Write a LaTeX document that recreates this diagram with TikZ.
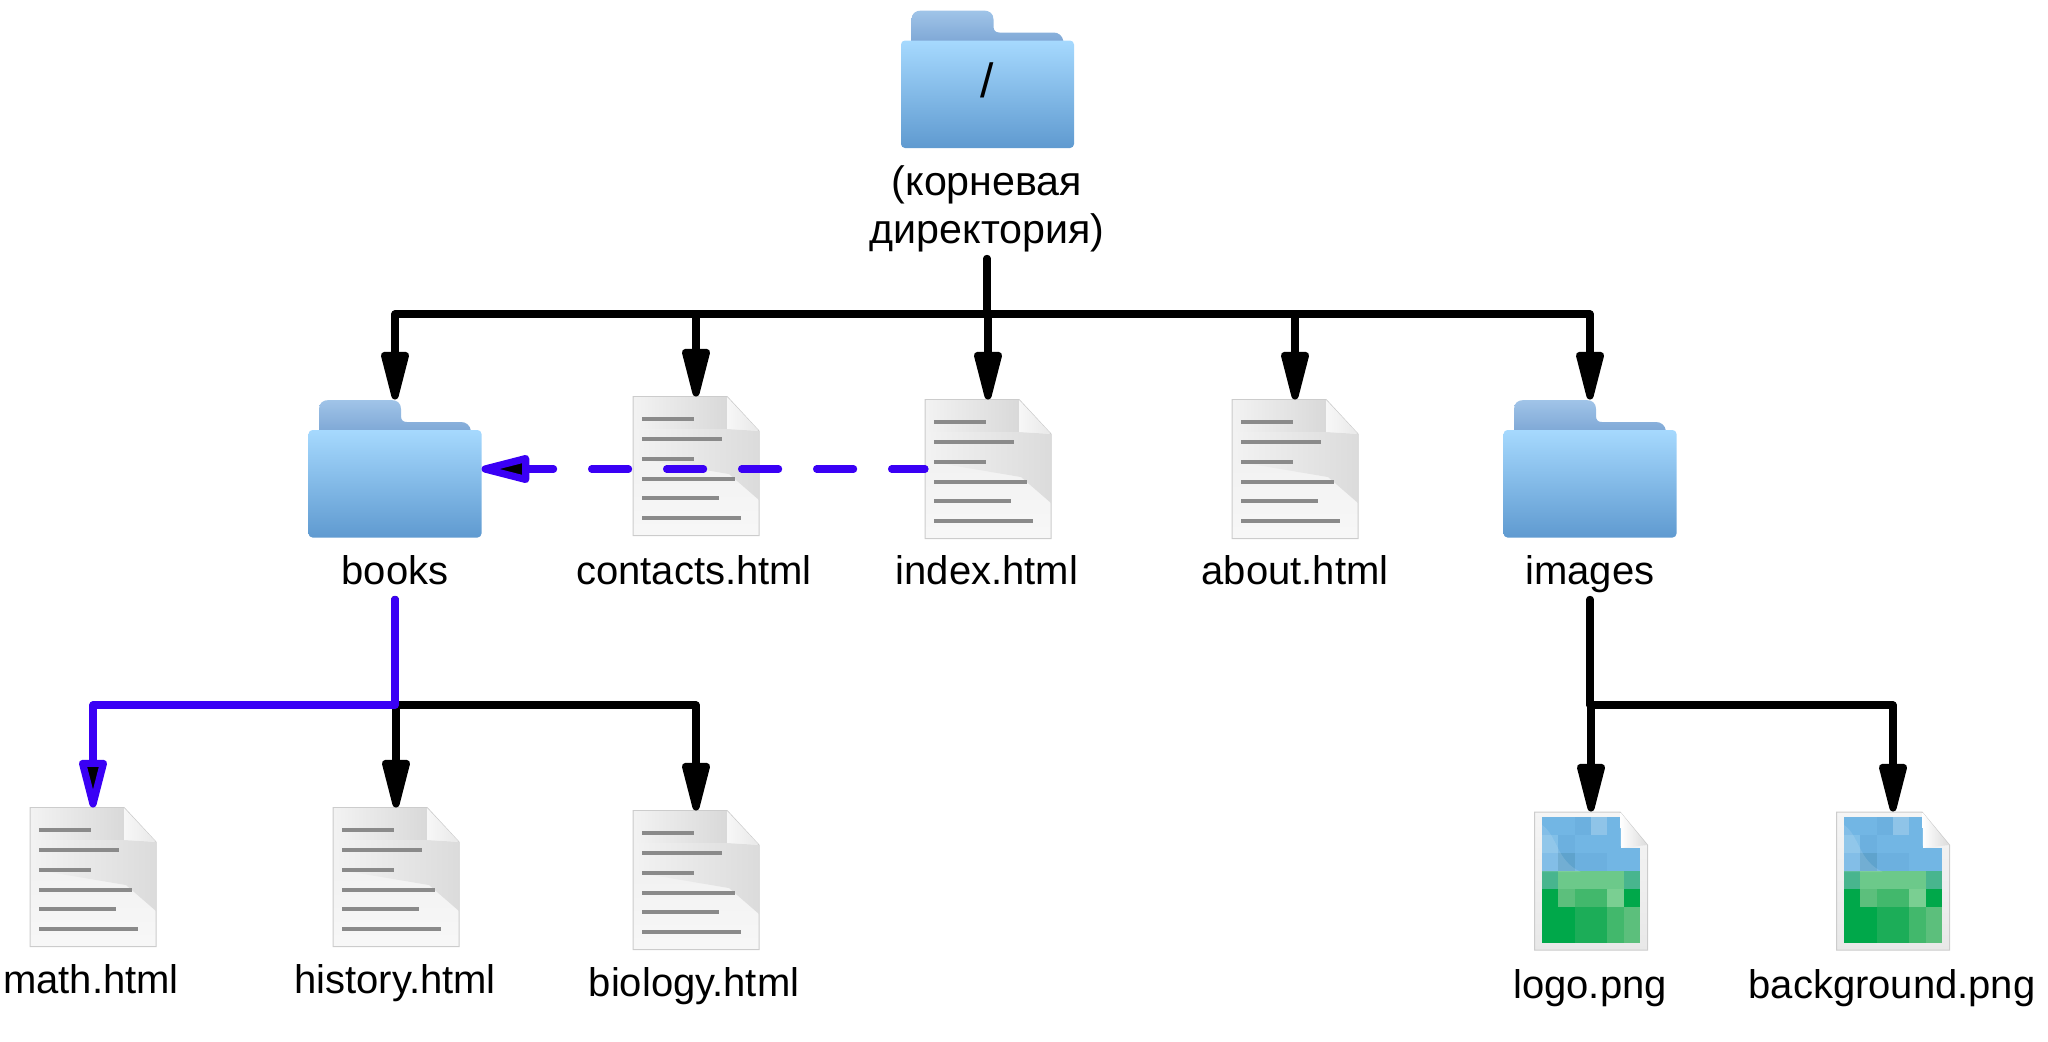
\documentclass[tikz,border=0pt]{standalone}
\usepackage{fontspec}
\setmainfont{Liberation Sans}
\usetikzlibrary{arrows.meta}

\definecolor{treeBlue}{HTML}{3A00F5}
\definecolor{sheetLine}{HTML}{8A8A8A}
\definecolor{skyBase}{HTML}{72B6E4}
\definecolor{skyPale}{HTML}{8FC4E8}
\definecolor{skyLight}{HTML}{82C0E8}
\definecolor{skyMid}{HTML}{6CB0DF}
\definecolor{skyDeep}{HTML}{5FA3CD}
\definecolor{meadowTeal}{HTML}{48B58E}
\definecolor{meadowPale}{HTML}{6CC98A}
\definecolor{meadowLight}{HTML}{7ACF92}
\definecolor{grassBase}{HTML}{00A84A}
\definecolor{grassMid}{HTML}{1CAD58}
\definecolor{grassSoft}{HTML}{42B86C}
\definecolor{grassPale}{HTML}{5CBF7C}
\definecolor{tabTop}{HTML}{A0C4E8}
\definecolor{tabBottom}{HTML}{7FA8D6}
\definecolor{frontTop}{HTML}{A6D9FE}
\definecolor{frontBottom}{HTML}{5F9AD0}

\tikzset{
    treeLine/.style={line width=3.6pt, line cap=round, line join=round},
    treeArrow/.style={treeLine, -{Triangle[round, length=30pt, width=14pt]}},
    blueArrow/.style={treeLine, treeBlue, -{Triangle[round, length=30pt, width=14pt, fill=black]}},
    fileLabel/.style={font=\fontsize{20pt}{24pt}\selectfont, anchor=base, inner sep=5pt, text depth=0.25em, align=center},
    iconFrame/.style={inner sep=0pt, outer sep=0pt, minimum width=#1, minimum height=69.5pt},
    folderIcon/.pic={
        % Back of the folder with its tab
        \shade[top color=tabTop, bottom color=tabBottom]
            (-76,-38) -- (-76,-60) .. controls (-76,-66) and (-72,-69) .. (-66,-69)
            -- (-4,-69) .. controls (2,-69) and (6,-66) .. (6,-60) -- (6,-53)
            .. controls (6,-49) and (8,-47) .. (12,-47) -- (66,-47)
            .. controls (71,-47) and (75,-44) .. (76,-38) -- cycle;
        % Front of the folder
        \shade[top color=frontTop, bottom color=frontBottom, rounded corners=2pt]
            (-86.5,-39) rectangle (86.5,68.5);
    },
    sheetIcon/.pic={
        % Sheet of paper
        \shade[top color=black!7, bottom color=black!3, draw=black!20, line width=0.5pt]
            (-63,-69.5) -- (31,-69.5) -- (63,-35) -- (63,69.5) -- (-63,69.5) -- cycle;
        \shade[left color=black!5, right color=black!15]
            (-62,-69) -- (31,-69) -- (31,-37) -- (-62,-37) -- cycle;
        \shade[left color=black!5, right color=black!14]
            (31,-37) -- (63,-35) -- (63,34) -- (33,8) -- (-62,-8) -- (-62,-37) -- cycle;
        \shade[left color=black!3, right color=black!9]
            (31,-69) -- (62.5,-35.5) -- (31,-37) -- cycle;
        % Lines of text
        \foreach \lineY/\lineLength in {-47.5/52,-27.5/80,-7.5/52,12.5/93,31.5/77,51.5/99}
            \fill[sheetLine] (-54,\lineY-2) rectangle +(\lineLength,4);
    },
    imageIcon/.pic={
        % Sheet behind the image
        \shade[top color=black!4, bottom color=black!9, draw=black!20, line width=0.5pt]
            (-56.5,-69) -- (29,-69) -- (56.5,-36) -- (56.5,69) -- (-56.5,69) -- cycle;
        % Tiles of the image
        \begin{scope}
            \clip (-49,-64) -- (30,-64) -- (30,-33) -- (49,-33) -- (49,62) -- (-49,62) -- cycle;
            \foreach \tileRow [count=\j from 0] in {
                {skyBase,skyBase,skyMid,skyPale,skyBase,skyBase},
                {skyLight,skyMid,skyBase,skyBase,skyBase,skyBase},
                {skyBase,skyDeep,skyMid,skyMid,skyBase,skyBase},
                {meadowTeal,meadowPale,meadowPale,meadowPale,meadowPale,meadowTeal},
                {grassBase,grassPale,grassSoft,grassSoft,meadowLight,grassBase},
                {grassBase,grassBase,grassMid,grassMid,grassSoft,grassPale},
                {grassBase,grassBase,grassMid,grassMid,grassSoft,grassPale}}
                \foreach \tileColour [count=\i from 0] in \tileRow
                    \fill[\tileColour] ({-49+\i*16.34},{-64+\j*18}) rectangle +(16.6,18.2);
            % Soft curve over the sky
            \fill[white, opacity=0.12] (-49,-56) .. controls (-33,-45) and (-35,-20) .. (-10,-9) -- (-49,-9) -- cycle;
        \end{scope}
        % Folded corner
        \shade[left color=white, right color=black!14]
            (29.5,-68.5) -- (56,-36) -- (30,-33) -- cycle;
    },
}

\begin{document}
\begin{tikzpicture}[x=0.5pt, y=-0.5pt]
    \useasboundingbox (0,0) rectangle (2048,1041);

    % Folders
    \foreach \name/\x/\y in {root/987.5/79.5, books/395/469, images/1590/469} {
        \pic at (\x,\y) {folderIcon};
        \node[iconFrame=86.5pt] (\name) at (\x,\y) {};
    }

    % Text documents
    \foreach \name/\x/\y in {contacts/696/466, index/988/469, about/1295/469, math/93/877, history/396/877, biology/696/880} {
        \pic at (\x,\y) {sheetIcon};
        \node[iconFrame=63pt] (\name) at (\x,\y) {};
    }

    % Images
    \foreach \name/\x/\y in {logo/1591/881, background/1893/881} {
        \pic at (\x,\y) {imageIcon};
        \node[iconFrame=56.5pt] (\name) at (\x,\y) {};
    }

    % Labels
    \node[font=\fontsize{24pt}{24pt}\selectfont, anchor=base, inner sep=0pt] (rootName) at (987,97) {/};
    \node[fileLabel, font=\fontsize{20.6pt}{24pt}\selectfont] (rootLabel) at (987,243) {(корневая\\директория)};
    \foreach \name/\x/\y/\fileName in {books/395/584/books, contacts/694/584/contacts.html, index/987/584/index.html, about/1295/584/about.html, images/1590/584/images, math/91/993/math.html, history/395/993/history.html, biology/694/996/biology.html, logo/1590/998/logo.png, background/1892/998/background.png}
        \node[fileLabel] (\name Label) at (\x,\y) {\fileName};

    % Tree from the root
    \coordinate (rootBus) at (987,314);
    \draw[treeLine] (rootLabel.south) -- (rootBus);
    \foreach \child in {books, contacts, index, about, images}
        \draw[treeArrow] (rootBus) -| (\child.north);

    % Tree from books
    \coordinate (booksBus) at (395,705);
    \draw[treeLine] (booksLabel.south) -- (booksBus);
    \foreach \child in {history, biology}
        \draw[treeArrow] (booksBus) -| (\child.north);

    % Tree from images
    \coordinate (imagesBus) at (1590,705);
    \draw[treeLine] (imagesLabel.south) -- (imagesBus);
    \foreach \child in {logo, background}
        \draw[treeArrow] (imagesBus) -| (\child.north);

    % Highlighted path
    \draw[treeLine, treeBlue] (booksLabel.south) -- (booksBus);
    \draw[blueArrow] (booksBus) -| (math.north);
    \draw[blueArrow, dash pattern=on 18.5pt off 19pt, dash phase=1.8pt] (index.west) -- (books.east);
\end{tikzpicture}
\end{document}
